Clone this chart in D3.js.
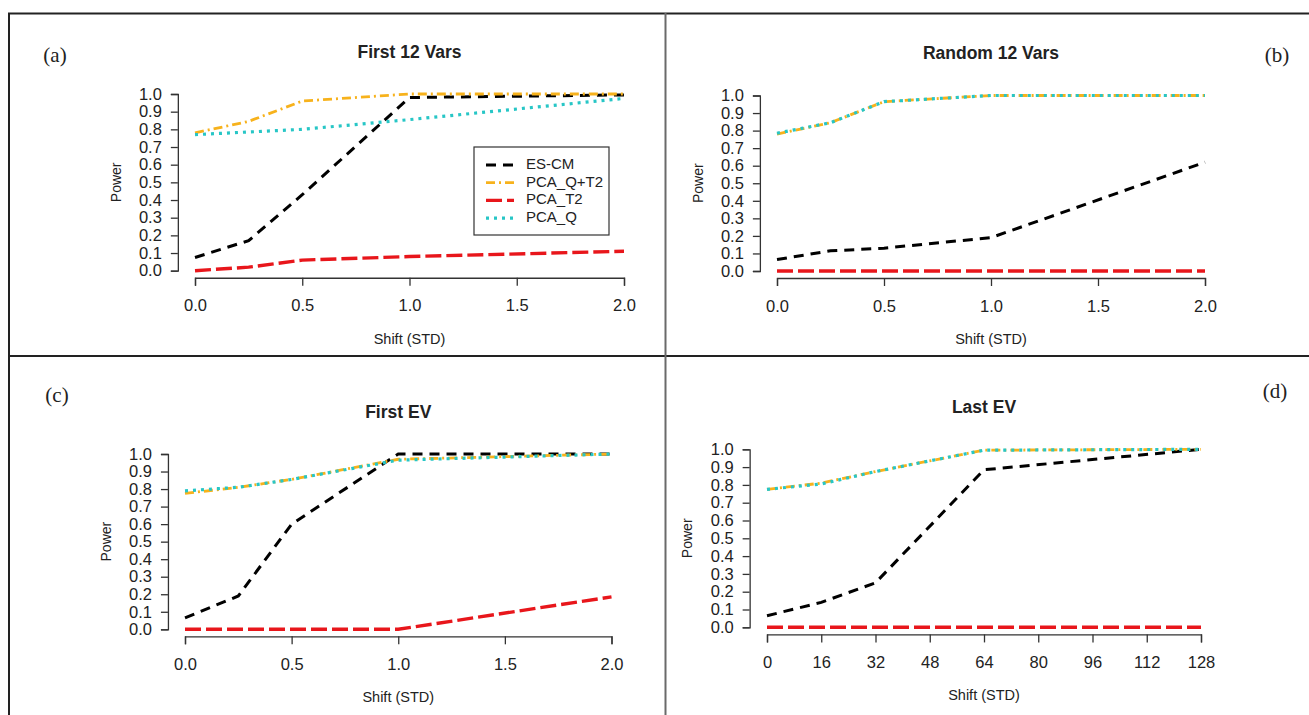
<!DOCTYPE html>
<html>
<head>
<meta charset="utf-8">
<script src="https://cdn.jsdelivr.net/npm/d3@7/dist/d3.min.js"></script>
<style>
  body { margin: 0; background: #fff; }
  svg text { font-family: "Liberation Sans", Arial, sans-serif; fill: #222; }
</style>
</head>
<body>
<svg id="chart" width="1309" height="715"></svg>
<script>
// data
const seriesNames = ["ES-CM", "PCA_Q+T2", "PCA_T2", "PCA_Q"];
const shiftStd = [0, 0.25, 0.5, 1, 2];
const shiftLastEv = [0, 16, 32, 64, 128];

// (a) First 12 Vars
const first12_escm = [0.075, 0.17, 0.43, 0.98, 0.995];
const first12_qt2  = [0.78, 0.845, 0.96, 1.0, 1.0];
const first12_t2   = [0.0, 0.02, 0.06, 0.08, 0.11];
const first12_q    = [0.77, 0.785, 0.80, 0.855, 0.975];

// (b) Random 12 Vars
const random12_escm = [0.065, 0.115, 0.13, 0.19, 0.62];
const random12_qt2  = [0.78, 0.845, 0.965, 1.0, 1.0];
const random12_t2   = [0.0, 0.0, 0.0, 0.0, 0.0];
const random12_q    = [0.785, 0.845, 0.965, 1.0, 1.0];

// (c) First EV
const firstEv_escm = [0.065, 0.19, 0.60, 1.0, 1.0];
const firstEv_qt2  = [0.775, 0.81, 0.855, 0.97, 1.0];
const firstEv_t2   = [0.0, 0.0, 0.0, 0.0, 0.185];
const firstEv_q    = [0.79, 0.81, 0.855, 0.965, 1.0];

// (d) Last EV
const lastEv_escm = [0.065, 0.14, 0.25, 0.885, 1.0];
const lastEv_qt2  = [0.775, 0.81, 0.875, 0.995, 1.0];
const lastEv_t2   = [0.0, 0.0, 0.0, 0.0, 0.0];
const lastEv_q    = [0.775, 0.805, 0.875, 0.995, 1.0];

const yTicks = [0, 0.1, 0.2, 0.3, 0.4, 0.5, 0.6, 0.7, 0.8, 0.9, 1.0];
const xTicksStd = [0, 0.5, 1, 1.5, 2];
const xTicksEv = [0, 16, 32, 48, 64, 80, 96, 112, 128];

// line styles per series
const styles = {
    "ES-CM":    { color: "#000000", width: 3, dash: "10,7" },
    "PCA_Q+T2": { color: "#f7b21c", width: 2.8, dash: "9,4,2,4" },
    "PCA_T2":   { color: "#e8161b", width: 3.4, dash: "16,5" },
    "PCA_Q":    { color: "#27c6c6", width: 3.2, dash: "3,5" }
};

const svg = d3.select("#chart");

// frame lines
svg.append("line").attr("x1", 8).attr("x2", 1309).attr("y1", 13.5).attr("y2", 13.5)
    .attr("stroke", "#222").attr("stroke-width", 2);
svg.append("line").attr("x1", 9).attr("x2", 9).attr("y1", 13).attr("y2", 715)
    .attr("stroke", "#222").attr("stroke-width", 2);
svg.append("line").attr("x1", 8).attr("x2", 1309).attr("y1", 356).attr("y2", 356)
    .attr("stroke", "#222").attr("stroke-width", 2);
svg.append("line").attr("x1", 665.5).attr("x2", 665.5).attr("y1", 13).attr("y2", 715)
    .attr("stroke", "#6a6a6a").attr("stroke-width", 2);

const panels = [
    { title: "First 12 Vars", tag: "(a)", tagPos: [55, 57], xs: shiftStd, xTicks: xTicksStd, xFmt: d3.format(".1f"),
      xDom: [0, 2], xr: [195, 624], yr: [270.7, 94],
      values: [first12_escm, first12_qt2, first12_t2, first12_q], legend: true },
    { title: "Random 12 Vars", tag: "(b)", tagPos: [1277, 57], xs: shiftStd, xTicks: xTicksStd, xFmt: d3.format(".1f"),
      xDom: [0, 2], xr: [777, 1205], yr: [271, 95.5],
      values: [random12_escm, random12_qt2, random12_t2, random12_q] },
    { title: "First EV", tag: "(c)", tagPos: [57, 397], xs: shiftStd, xTicks: xTicksStd, xFmt: d3.format(".1f"),
      xDom: [0, 2], xr: [185, 611.5], yr: [629.3, 454],
      values: [firstEv_escm, firstEv_qt2, firstEv_t2, firstEv_q] },
    { title: "Last EV", tag: "(d)", tagPos: [1275, 393], xs: shiftLastEv, xTicks: xTicksEv, xFmt: d3.format("d"),
      xDom: [0, 128], xr: [767, 1201], yr: [627.3, 449.3],
      values: [lastEv_escm, lastEv_qt2, lastEv_t2, lastEv_q] }
];

panels.forEach(p => {
    const x = d3.scaleLinear().domain(p.xDom).range(p.xr);
    const y = d3.scaleLinear().domain([0, 1]).range(p.yr);
    const pad = 0.04 * (p.xDom[1] - p.xDom[0]);
    const axisX = x(p.xDom[0] - pad);
    const axisY = y(-0.04);
    const g = svg.append("g");

    // y axis (R style)
    const yAxis = g.append("g").attr("transform", `translate(${axisX},0)`)
        .call(d3.axisLeft(y).tickValues(yTicks).tickFormat(d3.format(".1f")).tickSizeOuter(0).tickSize(7).tickPadding(9));
    // x axis
    const xAxis = g.append("g").attr("transform", `translate(0,${axisY})`)
        .call(d3.axisBottom(x).tickValues(p.xTicks).tickFormat(p.xFmt).tickSizeOuter(0).tickSize(8).tickPadding(14));
    [yAxis, xAxis].forEach(a => {
        a.select(".domain").attr("stroke", "#333").attr("stroke-width", 1.3);
        a.selectAll(".tick line").attr("stroke", "#333").attr("stroke-width", 1.3);
        a.selectAll("text").style("font-size", "16.5px").attr("fill", "#2a2a2a");
    });

    // titles
    const cx = (p.xr[0] + p.xr[1]) / 2;
    g.append("text").attr("x", cx).attr("y", y(1) - 41).attr("text-anchor", "middle")
        .attr("dominant-baseline", "middle").style("font-size", "17.5px").style("font-weight", "bold").text(p.title);
    g.append("text").attr("x", cx).attr("y", axisY + 62).attr("text-anchor", "middle")
        .attr("dominant-baseline", "middle").style("font-size", "14.5px").text("Shift (STD)");
    const ly = (p.yr[0] + p.yr[1]) / 2;
    g.append("text").attr("transform", `translate(${axisX - 61},${ly}) rotate(-90)`).attr("text-anchor", "middle")
        .attr("dominant-baseline", "middle").style("font-size", "14px").text("Power");
    g.append("text").attr("x", p.tagPos[0]).attr("y", p.tagPos[1]).attr("text-anchor", "middle")
        .attr("dominant-baseline", "middle").style("font-family", "'Liberation Serif', 'Times New Roman', serif")
        .style("font-size", "21px").text(p.tag);

    // series lines
    const line = d3.line().x(d => x(d[0])).y(d => y(d[1]));
    seriesNames.forEach((name, i) => {
        const st = styles[name];
        g.append("path")
            .datum(p.xs.map((v, j) => [v, p.values[i][j]]))
            .attr("d", line)
            .attr("fill", "none")
            .attr("stroke", st.color)
            .attr("stroke-width", st.width)
            .attr("stroke-dasharray", st.dash);
    });

    // legend
    if (p.legend) {
        const lg = g.append("g").attr("transform", "translate(474,147)");
        lg.append("rect").attr("width", 135).attr("height", 88)
            .attr("fill", "#fff").attr("stroke", "#333").attr("stroke-width", 1.2);
        seriesNames.forEach((name, i) => {
            const st = styles[name];
            const yy = 18 + i * 17.7;
            lg.append("line").attr("x1", 12).attr("x2", 40).attr("y1", yy).attr("y2", yy)
                .attr("stroke", st.color).attr("stroke-width", st.width).attr("stroke-dasharray", st.dash);
            lg.append("text").attr("x", 52).attr("y", yy).attr("dominant-baseline", "middle")
                .style("font-size", "15px").text(name);
        });
    }
});
</script>
</body>
</html>
